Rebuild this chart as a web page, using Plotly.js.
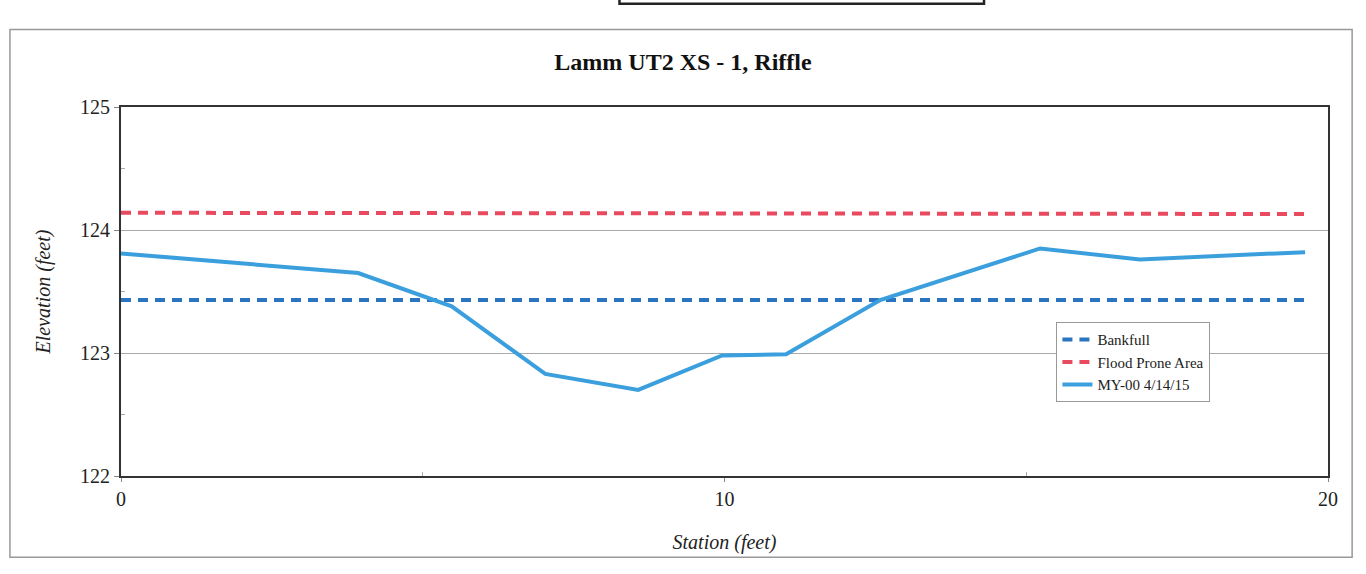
<!DOCTYPE html>
<html>
<head>
<meta charset="utf-8">
<script src="https://cdn.plot.ly/plotly-3.0.1.min.js"></script>
<style>html,body{margin:0;padding:0;background:#fff;}#chart{width:1366px;height:574px;}</style>
</head>
<body>
<div id="chart"></div>
<script>
const surveyStation = [0, 3.93, 5.48, 7.03, 8.57, 9.96, 11.02, 12.58, 15.23, 16.88, 19.62];
const surveyElev = [123.81, 123.65, 123.38, 122.83, 122.70, 122.98, 122.99, 123.43, 123.85, 123.76, 123.82];
const bankfullStation = [0, 19.62];
const bankfullElev = [123.43, 123.43];
const floodStation = [0, 19.62];
const floodElev = [124.14, 124.13];
const xTicks = [0, 10, 20];
const yTicks = [122, 123, 124, 125];

const font = "'Liberation Serif', 'Times New Roman', serif";
const traces = [
  {x: bankfullStation, y: bankfullElev, name: 'Bankfull', mode: 'lines',
   line: {color: '#2a74c0', width: 4, dash: '10px,7px'}},
  {x: floodStation, y: floodElev, name: 'Flood Prone Area', mode: 'lines',
   line: {color: '#e84a5f', width: 4, dash: '10px,7px'}},
  {x: surveyStation, y: surveyElev, name: 'MY-00 4/14/15', mode: 'lines',
   line: {color: '#3a9fdc', width: 4}}
];
const layout = {
  width: 1366, height: 574,
  margin: {l: 121, r: 38, t: 107, b: 98},
  paper_bgcolor: '#fff', plot_bgcolor: '#fff',
  showlegend: true,
  title: {text: '<b>Lamm UT2 XS - 1, Riffle</b>', x: 0.5, xanchor: 'center', y: 0.893, yanchor: 'middle',
          font: {family: font, size: 24, color: '#111'}},
  xaxis: {range: [0, 20], tickvals: xTicks, ticktext: xTicks.map(String),
          showgrid: false, zeroline: false, showline: true, linecolor: '#333', linewidth: 2, mirror: true,
          ticks: 'outside', ticklen: 4, tickcolor: '#888',
          minor: {tickvals: [5, 15], ticks: 'inside', ticklen: 4, tickcolor: '#aaa'},
          tickfont: {family: font, size: 20, color: '#222'},
          title: {text: '<i>Station (feet)</i>', font: {family: font, size: 20, color: '#222'}, standoff: 26}},
  yaxis: {range: [122, 125], tickvals: yTicks, ticktext: yTicks.map(String),
          showgrid: true, gridcolor: '#aaa', gridwidth: 1, zeroline: false,
          showline: true, linecolor: '#333', linewidth: 2, mirror: true,
          ticks: 'outside', ticklen: 5, tickcolor: '#888',
          minor: {tickvals: [122.5, 123.5, 124.5], ticks: 'inside', ticklen: 4, tickcolor: '#aaa', showgrid: false},
          tickfont: {family: font, size: 20, color: '#222'},
          title: {text: '<i>Elevation (feet)</i>', font: {family: font, size: 20, color: '#222'}, standoff: 24}},
  legend: {x: 0.775, y: 0.417, xanchor: 'left', yanchor: 'top',
           bgcolor: '#fff', bordercolor: '#999', borderwidth: 1,
           font: {family: font, size: 15, color: '#222'}, tracegroupgap: 6},
  shapes: [
    {type: 'rect', xref: 'paper', yref: 'paper', x0: -0.092, x1: 1.02, y0: -0.22, y1: 1.21,
     line: {color: '#999', width: 1.5}},
    {type: 'rect', xref: 'paper', yref: 'paper', x0: 0.413, x1: 0.715, y0: 1.28, y1: 1.35,
     line: {color: '#222', width: 2.5}}
  ]
};
Plotly.newPlot('chart', traces, layout, {displayModeBar: false, staticPlot: true});
</script>
</body>
</html>
